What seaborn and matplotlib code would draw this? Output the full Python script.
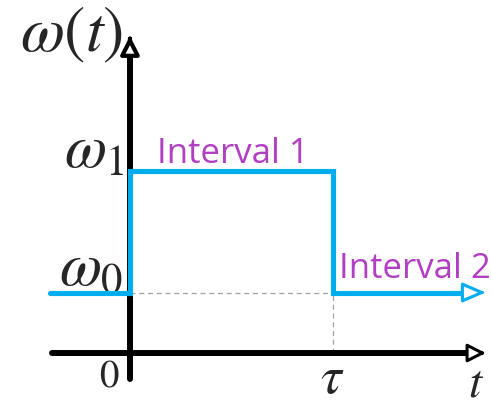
import matplotlib
matplotlib.use("Agg")
import matplotlib.pyplot as plt
import seaborn as sns
import pandas as pd

# ---- data (schematic step function) ----
t_points = [-0.394, 0.0, 0.0, 1.0, 1.0, 1.66]
w_points = [0.5, 0.5, 1.5, 1.5, 0.5, 0.5]
tau = 1.0
w0, w1 = 0.5, 1.5
interval_labels = ["Interval 1", "Interval 2"]
axis_labels = [r"$\omega(t)$", r"$t$", r"$\omega_1$", r"$\omega_0$", r"$0$", r"$\tau$"]

BLUE = "#00AEEF"
MAG = "#B23FC3"

plt.rcParams["mathtext.fontset"] = "stix"
sns.set_style("white")
plt.rcParams["font.family"] = ["Open Sans", "DejaVu Sans"]

fig = plt.figure(figsize=(4.91, 4.07), dpi=100)
ax = fig.add_axes([0, 0, 1, 1])
ax.set_xlim(-0.640, 1.778)
ax.set_ylim(-0.446, 2.917)
ax.axis("off")

# dashed guide lines
ax.plot([0, tau], [w0, w0], color="#A0A0A0", lw=0.9, ls=(0, (4, 3)), zorder=1)
ax.plot([tau, tau], [0, w0], color="#A0A0A0", lw=0.9, ls=(0, (4, 3)), zorder=1)

# axes lines
ax.plot([-0.384, 1.68], [0, 0], color="black", lw=4.3, solid_capstyle="round", zorder=2)
ax.plot([0, 0], [-0.215, 2.47], color="black", lw=4.3, solid_capstyle="round", zorder=2)
ax.annotate("", xy=(1.752, 0), xytext=(1.72, 0),
            arrowprops=dict(arrowstyle="-|>,head_length=0.55,head_width=0.28",
                            fc="white", ec="black", lw=2.2, shrinkA=0, shrinkB=0,
                            mutation_scale=20), zorder=3)
ax.annotate("", xy=(0, 2.62), xytext=(0, 2.59),
            arrowprops=dict(arrowstyle="-|>,head_length=0.55,head_width=0.28",
                            fc="white", ec="black", lw=3.0, shrinkA=0, shrinkB=0,
                            mutation_scale=20), zorder=3)

# step function
df = pd.DataFrame({"t": t_points, "w": w_points})
sns.lineplot(data=df, x="t", y="w", sort=False, estimator=None, errorbar=None,
             color=BLUE, lw=3.7, ax=ax, zorder=4, legend=False)
ax.lines[-1].set_solid_joinstyle("miter")
ax.annotate("", xy=(1.752, w0), xytext=(1.72, w0),
            arrowprops=dict(arrowstyle="-|>,head_length=0.7,head_width=0.3",
                            fc="white", ec=BLUE, lw=2.2, shrinkA=0, shrinkB=0,
                            mutation_scale=20), zorder=5)

# texts
ax.text(0.133, 1.57, interval_labels[0], color=MAG, fontsize=25, ha="left", va="baseline")
ax.text(1.03, 0.62, interval_labels[1], color=MAG, fontsize=25, ha="left", va="baseline")

ax.text(-0.034, 2.63, axis_labels[0], fontsize=46, ha="right", va="center")
ax.text(1.745, -0.25, axis_labels[1], fontsize=34, ha="right", va="center")
ax.text(-0.025, 1.66, axis_labels[2], fontsize=44, ha="right", va="center")
ax.text(-0.035, 0.69, axis_labels[3], fontsize=44, ha="right", va="center")
ax.text(-0.103, -0.19, axis_labels[4], fontsize=28, ha="center", va="center")
ax.text(0.995, -0.22, axis_labels[5], fontsize=38, ha="center", va="center")

fig.savefig("out.png", dpi=100)
